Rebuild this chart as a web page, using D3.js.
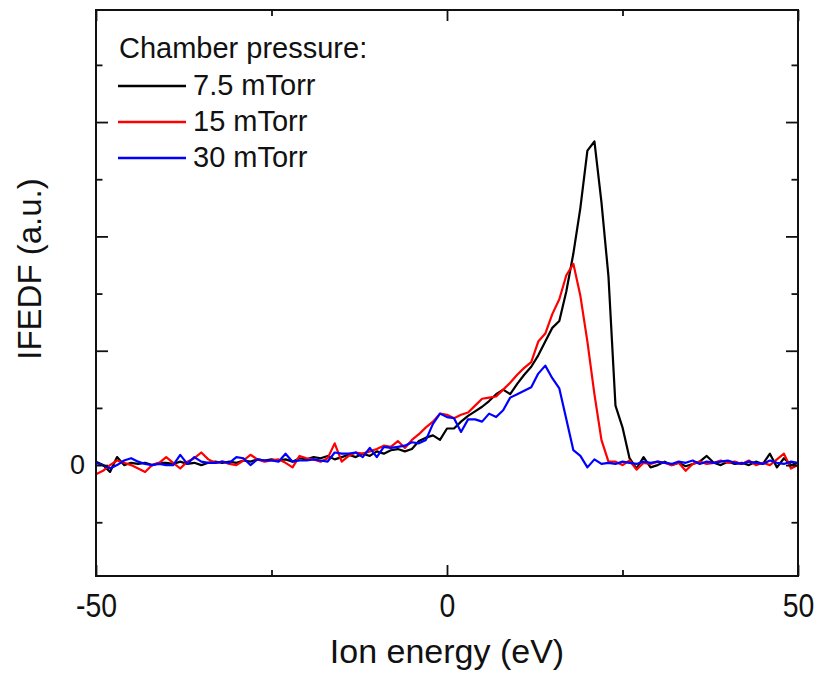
<!DOCTYPE html>
<html lang="en">
  <head>
    <meta charset="utf-8">
    <title>IFEDF vs ion energy</title>
    <script type="text/javascript" src="https://cdn.jsdelivr.net/npm/d3@7"></script>
    <style>
      body { margin: 0; background: #fff; }
      text { font-family: "Liberation Sans", Arial, sans-serif; fill: #111; }
    </style>
  </head>
  <body>
    <script type="text/javascript">
    // ion energy grid (eV), one point per eV
    var energy = [-50,-49,-48,-47,-46,-45,-44,-43,-42,-41,-40,-39,-38,-37,-36,-35,-34,-33,-32,-31,
                  -30,-29,-28,-27,-26,-25,-24,-23,-22,-21,-20,-19,-18,-17,-16,-15,-14,-13,-12,-11,
                  -10,-9,-8,-7,-6,-5,-4,-3,-2,-1,0,1,2,3,4,5,6,7,8,9,
                  10,11,12,13,14,15,16,17,18,19,20,21,22,23,24,25,26,27,28,29,
                  30,31,32,33,34,35,36,37,38,39,40,41,42,43,44,45,46,47,48,49,50];

    // IFEDF in arbitrary units (1 unit = one major tick on the y axis)
    var ifedf75 = [0.03,0.00,-0.06,0.07,0.00,0.02,0.01,0.02,0.00,0.02,
                   0.02,0.01,0.03,0.01,0.02,0.00,0.02,0.03,0.02,0.03,
                   0.02,0.04,0.03,0.05,0.04,0.05,0.04,0.05,0.03,0.06,
                   0.05,0.07,0.06,0.08,0.05,0.07,0.09,0.07,0.10,0.08,
                   0.12,0.10,0.13,0.14,0.12,0.14,0.21,0.24,0.26,0.22,
                   0.32,0.32,0.38,0.43,0.47,0.51,0.56,0.62,0.66,0.62,
                   0.71,0.79,0.86,0.96,1.08,1.20,1.26,1.52,1.85,2.25,
                   2.75,2.83,2.30,1.65,0.52,0.33,0.06,-0.03,0.07,-0.02,
                   0.00,0.03,0.00,0.02,-0.01,0.01,0.03,0.08,0.02,0.00,
                   0.03,0.01,0.02,0.00,0.03,0.01,0.10,-0.02,0.06,0.00,0.02];

    var ifedf15 = [-0.08,-0.05,0.00,0.04,0.02,0.00,-0.03,-0.06,0.00,0.02,
                   0.07,0.02,-0.03,0.03,0.06,0.11,0.05,0.02,0.03,0.01,
                   0.00,0.04,0.09,0.05,0.03,0.04,0.05,0.02,-0.02,0.08,
                   0.06,0.05,0.03,0.06,0.19,0.03,0.08,0.11,0.10,0.12,
                   0.14,0.17,0.16,0.21,0.15,0.22,0.27,0.33,0.38,0.45,
                   0.44,0.41,0.44,0.46,0.52,0.58,0.59,0.60,0.66,0.72,
                   0.79,0.85,0.90,1.08,1.15,1.32,1.45,1.66,1.76,1.48,
                   1.08,0.62,0.22,0.03,0.03,0.00,0.04,-0.04,0.02,0.01,
                   0.03,0.02,0.00,0.02,-0.05,0.01,0.03,0.01,0.02,0.04,
                   0.02,0.03,0.01,0.04,0.00,0.02,0.00,0.05,0.10,-0.03,0.00];

    var ifedf30 = [0.02,0.00,-0.03,0.00,0.04,0.06,0.03,0.01,0.00,0.01,
                   0.00,0.00,0.09,0.01,0.07,0.03,0.02,0.02,0.03,0.02,
                   0.07,0.06,0.00,0.05,0.04,0.04,0.03,0.10,0.03,0.04,
                   0.04,0.05,0.04,0.03,0.11,0.10,0.10,0.11,0.07,0.15,
                   0.07,0.16,0.15,0.16,0.17,0.20,0.19,0.22,0.36,0.45,
                   0.42,0.41,0.29,0.40,0.40,0.38,0.45,0.42,0.48,0.59,
                   0.62,0.65,0.68,0.80,0.87,0.76,0.67,0.40,0.13,0.08,
                   -0.02,0.05,0.01,0.02,0.01,0.03,0.02,0.01,0.03,0.02,
                   0.03,0.02,0.01,0.03,0.02,0.04,0.01,0.03,0.02,0.03,
                   0.04,0.02,0.01,0.03,0.02,0.01,0.04,0.02,0.01,0.03,0.02];

    var seriesNames = ["7.5 mTorr", "15 mTorr", "30 mTorr"];
    var seriesColors = ["#000000", "#ff0000", "#0000ff"];
    var legendTitle = "Chamber pressure:";

    // ticks
    var xMajorTicks = [-50, 0, 50];
    var xMinorTicks = [-25, 25];
    var yMajorTicks = [0, 1, 2, 3];
    var yMinorTicks = [-0.5, 0.5, 1.5, 2.5, 3.5];

    var w = 821;
    var h = 674;
    // plot frame edges (avoid the global name "top")
    var plotL = 96, plotR = 798, plotT = 10, plotB = 576;

    var svg = d3.select("body")
                .append("svg")
                .attr("width", w)
                .attr("height", h);

    var xScale = d3.scaleLinear()
                   .domain([-50, 50])
                   .range([plotL, plotR]);
    var yScale = d3.scaleLinear()
                   .domain([-0.97, 3.98])
                   .range([plotB, plotT]);

    // clip the curves to the plot frame
    svg.append("clipPath")
       .attr("id", "plotclip")
       .append("rect")
       .attr("x", plotL).attr("y", plotT)
       .attr("width", plotR - plotL).attr("height", plotB - plotT);

    var series = [ifedf75, ifedf15, ifedf30];

    var line = d3.line()
                 .x(function(d, i) { return xScale(energy[i]); })
                 .y(function(d) { return yScale(d); });

    svg.append("g")
       .attr("clip-path", "url(#plotclip)")
       .selectAll("path")
       .data(series)
       .enter()
       .append("path")
       .attr("d", line)
       .attr("fill", "none")
       .attr("stroke", function(d, i) { return seriesColors[i]; })
       .attr("stroke-width", 2.2)
       .attr("stroke-linejoin", "round");

    // axes: ticks point inward on all four sides
    var addAxis = function(axis, tx, ty) {
      var g = svg.append("g")
                 .attr("transform", "translate(" + tx + "," + ty + ")")
                 .call(axis);
      g.select(".domain").remove();
      g.selectAll(".tick line").attr("stroke", "#111").attr("stroke-width", 1.8);
      return g;
    };

    var xBottom = addAxis(d3.axisBottom(xScale).tickValues(xMajorTicks).tickSize(-11).tickPadding(18)
                            .tickFormat(function(d) { return String(d); }), 0, plotB);
    addAxis(d3.axisBottom(xScale).tickValues(xMinorTicks).tickSize(-6).tickFormat(""), 0, plotB);
    addAxis(d3.axisTop(xScale).tickValues(xMajorTicks).tickSize(-11).tickFormat(""), 0, plotT);
    addAxis(d3.axisTop(xScale).tickValues(xMinorTicks).tickSize(-6).tickFormat(""), 0, plotT);

    var yLeft = addAxis(d3.axisLeft(yScale).tickValues(yMajorTicks).tickSize(-12).tickPadding(11)
                          .tickFormat(function(d) { return d === 0 ? "0" : ""; }), plotL, 0);
    addAxis(d3.axisLeft(yScale).tickValues(yMinorTicks).tickSize(-6.5).tickFormat(""), plotL, 0);
    addAxis(d3.axisRight(yScale).tickValues(yMajorTicks).tickSize(-12).tickFormat(""), plotR, 0);
    addAxis(d3.axisRight(yScale).tickValues(yMinorTicks).tickSize(-6.5).tickFormat(""), plotR, 0);

    xBottom.selectAll("text")
           .style("font-size", "33px")
           .attr("fill", "#111")
           .each(function() {
             // labels in the original look slightly narrow
             var len = this.getComputedTextLength();
             d3.select(this).attr("textLength", len * 0.86).attr("lengthAdjust", "spacingAndGlyphs");
           });

    yLeft.selectAll("text")
         .style("font-size", "27px")
         .attr("fill", "#111");

    // frame
    svg.append("rect")
       .attr("x", plotL).attr("y", plotT)
       .attr("width", plotR - plotL).attr("height", plotB - plotT)
       .attr("fill", "none")
       .attr("stroke", "#111")
       .attr("stroke-width", 2);

    // axis titles
    svg.append("text")
       .attr("x", (plotL + plotR) / 2)
       .attr("y", 663)
       .attr("text-anchor", "middle")
       .style("font-size", "34px")
       .text("Ion energy (eV)");

    svg.append("text")
       .attr("transform", "translate(41," + 269 + ") rotate(-90)")
       .attr("text-anchor", "middle")
       .style("font-size", "33px")
       .text("IFEDF (a.u.)");

    // legend
    var legend = svg.append("g");
    legend.append("text")
          .attr("x", 119)
          .attr("y", 58)
          .style("font-size", "29px")
          .text(legendTitle);

    var items = legend.selectAll("g.item")
                      .data(seriesNames)
                      .enter()
                      .append("g")
                      .attr("class", "item")
                      .attr("transform", function(d, i) { return "translate(0," + (95 + i * 36) + ")"; });

    items.append("line")
         .attr("x1", 118).attr("x2", 186)
         .attr("y1", -9).attr("y2", -9)
         .attr("stroke", function(d, i) { return seriesColors[i]; })
         .attr("stroke-width", 2.4);

    items.append("text")
         .attr("x", 193)
         .attr("y", 0)
         .style("font-size", "29px")
         .text(function(d) { return d; });
    </script>
  </body>
</html>
